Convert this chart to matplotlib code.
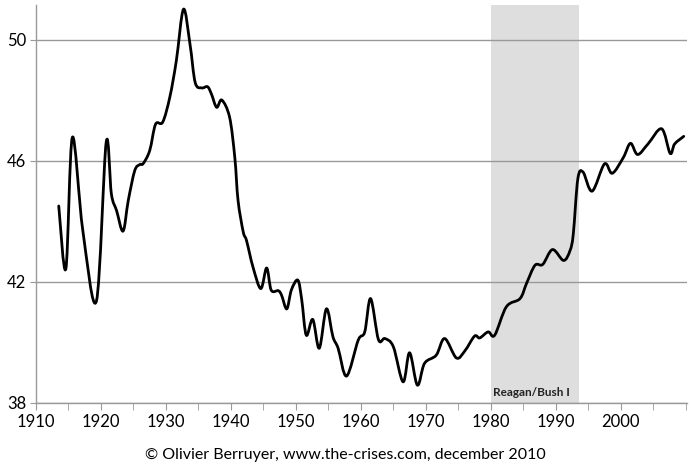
import numpy as np
import matplotlib.pyplot as plt
from matplotlib.path import Path
from matplotlib.patches import PathPatch

plt.rcParams['font.family'] = ['Lato', 'DejaVu Sans']

# values (share, %)
years = [1913.5, 1914.6, 1915.6, 1917.2, 1919.3, 1920.8, 1921.6, 1922.4, 1923.4, 1924.2,
         1925.2, 1926.0, 1926.5, 1927.5, 1928.4, 1929.5, 1930.6, 1931.6, 1932.7, 1933.7,
         1934.5, 1935.5, 1936.4, 1937.0, 1937.8, 1938.6, 1939.8, 1940.6, 1941.1, 1941.9,
         1942.4, 1943.4, 1944.6, 1945.5, 1946.2, 1947.3, 1947.8, 1948.6, 1949.3, 1950.3,
         1950.9, 1951.6, 1952.6, 1953.6, 1954.7, 1955.7, 1956.5, 1957.8, 1959.6, 1960.6,
         1961.5, 1962.7, 1963.7, 1965.0, 1966.5, 1967.5, 1968.7, 1969.8, 1971.6, 1972.9,
         1974.7, 1976.0, 1977.5, 1978.3, 1979.6, 1980.6, 1982.4, 1984.5, 1985.5, 1986.8,
         1988.0, 1989.5, 1991.2, 1992.2, 1992.7, 1993.4, 1994.2, 1995.6, 1997.5, 1998.7,
         2000.4, 2001.5, 2002.6, 2004.2, 2006.3, 2007.6, 2008.3, 2009.7]
share = [44.5, 42.43, 46.77, 43.7, 41.36, 46.6, 44.9, 44.35, 43.67, 44.68,
         45.67, 45.87, 45.9, 46.33, 47.2, 47.27, 48.1, 49.3, 51.0, 49.85,
         48.58, 48.4, 48.44, 48.2, 47.76, 48.0, 47.43, 46.1, 44.68, 43.64,
         43.36, 42.48, 41.77, 42.45, 41.72, 41.7, 41.55, 41.1, 41.72, 42.05,
         41.4, 40.23, 40.75, 39.8, 41.1, 40.18, 39.8, 38.88, 40.07, 40.34,
         41.44, 40.09, 40.12, 39.85, 38.69, 39.65, 38.58, 39.3, 39.57, 40.12,
         39.48, 39.71, 40.2, 40.14, 40.34, 40.23, 41.17, 41.44, 41.94, 42.54,
         42.57, 43.06, 42.7, 43.03, 43.58, 45.4, 45.62, 44.99, 45.89, 45.58,
         46.1, 46.57, 46.2, 46.55, 47.05, 46.24, 46.55, 46.8]

period = (1980, 1993.6)
period_label = 'Reagan/Bush I'


def smooth_path(x, y):
    # Catmull-Rom style bezier through the points (like a "smoothed line")
    x = np.asarray(x, float)
    y = np.asarray(y, float)
    verts = [(x[0], y[0])]
    codes = [Path.MOVETO]
    n = len(x)
    for i in range(n - 1):
        x0, y0 = (x[i - 1], y[i - 1]) if i > 0 else (x[i], y[i])
        x3, y3 = (x[i + 2], y[i + 2]) if i + 2 < n else (x[i + 1], y[i + 1])
        c1 = (x[i] + (x[i + 1] - x0) / 6, y[i] + (y[i + 1] - y0) / 6)
        c2 = (x[i + 1] - (x3 - x[i]) / 6, y[i + 1] - (y3 - y[i]) / 6)
        verts += [c1, c2, (x[i + 1], y[i + 1])]
        codes += [Path.CURVE4] * 3
    return Path(verts, codes)


fig = plt.figure(figsize=(6.91, 4.70), dpi=100)
ax = fig.add_axes([36/691, 67.3/470, 651/691, 398/470])

ax.axvspan(period[0], period[1], color='#dedede', zorder=0, lw=0)
ax.text(period[0] + 0.3, 38.35, period_label, fontsize=8.5, fontweight='bold',
        color='#222222', ha='left', va='center')

ax.add_patch(PathPatch(smooth_path(years, share), fc='none', ec='black', lw=2.0,
                       joinstyle='round', capstyle='round', zorder=3))

ax.set_xlim(1910, 2010.2)
ax.set_ylim(38, 51.15)
ax.set_yticks([38, 42, 46, 50])
ax.set_xticks(range(1910, 2001, 10))
ax.set_xticks(range(1915, 2011, 5), minor=True)
ax.yaxis.grid(True, color='#999999', lw=1.0)
ax.set_axisbelow(True)

for s in ['top', 'right']:
    ax.spines[s].set_visible(False)
for s in ['left', 'bottom']:
    ax.spines[s].set_color('#999999')
    ax.spines[s].set_linewidth(1.0)

ax.tick_params(axis='x', which='both', direction='out', length=5, color='#999999',
               labelsize=12, pad=3)
ax.tick_params(axis='y', direction='out', length=4, color='#999999', labelsize=12, pad=3)

fig.text(345/691, 1 - 455/470, '\u00a9 Olivier Berruyer, www.the-crises.com, december 2010',
         ha='center', va='center', fontsize=11.5)

fig.savefig('out.png', dpi=100)
